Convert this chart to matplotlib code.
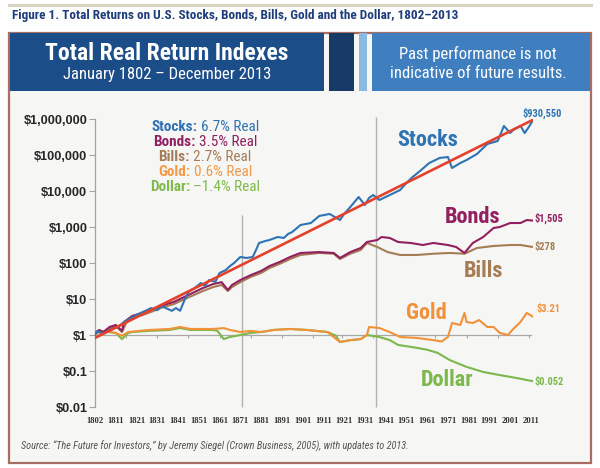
import matplotlib
matplotlib.use("Agg")
import matplotlib.pyplot as plt
from matplotlib import font_manager
from matplotlib.patches import Rectangle
from matplotlib.offsetbox import TextArea, HPacker, VPacker, AnnotationBbox
from matplotlib.ticker import NullLocator, FixedLocator

# ------------------------------------------------------------------ data
stock_years = [1802, 1803, 1806, 1809, 1813, 1816, 1820, 1824, 1827, 1829, 1832, 1834,
               1837, 1839, 1841, 1843, 1845, 1847, 1850, 1853, 1855, 1857, 1860, 1862,
               1865, 1867, 1869, 1872, 1875, 1878, 1880, 1881, 1884, 1886, 1890, 1893,
               1895, 1897, 1901, 1906, 1910, 1915, 1920, 1922, 1925, 1929, 1932, 1934,
               1936, 1939, 1942, 1944, 1949, 1952, 1955, 1958, 1963, 1966, 1968, 1972,
               1974, 1978, 1981, 1986, 1991, 1996, 1999, 2002, 2004, 2007, 2009, 2011, 2013]
stock_values = [1.0, 1.29, 1.07, 1.38, 1.67, 2.3, 3.16, 4.1, 4.9, 5.6, 4.9, 6.4,
                5.3, 4.7, 5.6, 4.7, 9.0, 15.6, 20.2, 27.8, 23, 33.7, 30, 52.7,
                64, 82, 100, 147, 138, 147, 261, 359, 408, 435, 527, 496,
                640, 726, 1136, 1290, 2023, 2300, 1563, 2300, 3594, 6813, 4084, 6400,
                7743, 5623, 6813, 7743, 10660, 16681, 24480, 33700, 59900, 72600, 82600, 88000,
                43500, 60000, 72600, 106700, 202000, 245000, 640000, 408000, 527000, 640000,
                408000, 600000, 930550]

bond_years = [1802, 1804, 1806, 1809, 1812, 1815, 1816, 1820, 1825, 1830, 1835, 1840,
              1844, 1849, 1854, 1859, 1863, 1866, 1868, 1872, 1877, 1882, 1886, 1891,
              1896, 1901, 1910, 1917, 1920, 1925, 1930, 1933, 1938, 1940, 1944, 1948,
              1954, 1960, 1965, 1972, 1976, 1980, 1984, 1989, 1994, 1997, 2002, 2007,
              2010, 2013]
bond_values = [1.1, 1.38, 1.2, 1.67, 1.9, 1.3, 2.3, 3.4, 4.1, 5.3, 6.8, 8.3,
               10.7, 14.7, 20.2, 26.1, 29.3, 17.8, 24.5, 33.7, 46, 60, 82, 107,
               147, 190, 201, 190, 138, 201, 261, 383, 435, 527, 496, 383,
               360, 316, 360, 316, 278, 190, 360, 527, 938, 1000, 1290, 1290,
               1563, 1505]

bill_years = [1802, 1804, 1806, 1809, 1812, 1815, 1817, 1820, 1825, 1830, 1835, 1840,
              1844, 1849, 1854, 1859, 1863, 1866, 1868, 1872, 1877, 1882, 1886, 1891,
              1896, 1901, 1910, 1917, 1920, 1925, 1930, 1933, 1938, 1943, 1949, 1957,
              1965, 1973, 1980, 1986, 1994, 2002, 2007, 2013]
bill_values = [1.0, 1.3, 1.15, 1.55, 1.8, 1.2, 2.15, 3.0, 3.6, 4.6, 6.0, 7.2,
               9.3, 12.4, 16.7, 21.5, 24.5, 16.7, 21.5, 29.3, 41, 52.7, 72, 95,
               129, 167, 190, 181, 129, 181, 230, 360, 278, 201, 167, 167,
               181, 190, 181, 261, 297, 316, 316, 278]

gold_years = [1802, 1805, 1812, 1815, 1818, 1828, 1838, 1843, 1848, 1859, 1864, 1867,
              1872, 1877, 1882, 1888, 1896, 1904, 1914, 1920, 1925, 1930, 1933, 1934,
              1939, 1944, 1949, 1957, 1965, 1969, 1972, 1974, 1978, 1980, 1981, 1984,
              1987, 1991, 1994, 1997, 2001, 2003, 2007, 2010, 2013]
gold_values = [1.0, 1.3, 1.14, 0.95, 1.21, 1.38, 1.47, 1.67, 1.47, 1.47, 1.56, 1.38,
               1.21, 1.3, 1.21, 1.38, 1.47, 1.38, 1.21, 0.64, 0.72, 0.77, 1.0, 1.67,
               1.56, 1.21, 0.88, 0.83, 0.72, 0.66, 0.88, 2.15, 1.9, 4.1, 2.3, 2.15,
               2.6, 1.67, 1.67, 1.14, 1.0, 1.38, 2.3, 4.1, 3.21]

dollar_years = [1802, 1805, 1812, 1815, 1818, 1820, 1828, 1838, 1843, 1848, 1853, 1859,
                1861, 1864, 1867, 1872, 1877, 1882, 1888, 1896, 1904, 1914, 1918, 1920,
                1925, 1930, 1933, 1939, 1944, 1948, 1957, 1962, 1967, 1973, 1981, 1989,
                1997, 2005, 2013]
dollar_values = [1.0, 1.3, 1.14, 0.77, 1.14, 1.21, 1.3, 1.38, 1.56, 1.38, 1.38, 1.38,
                 1.3, 0.77, 0.88, 1.0, 1.14, 1.21, 1.38, 1.47, 1.38, 1.21, 0.96, 0.64,
                 0.72, 0.77, 1.0, 0.88, 0.72, 0.53, 0.44, 0.39, 0.32, 0.20, 0.13, 0.094,
                 0.077, 0.064, 0.052]

trend_years = [1802, 2013]
trend_values = [0.83, 950000]

xtick_labels = ['1802', '1811', '1821', '1831', '1841', '1851', '1861', '1871', '1881',
                '1891', '1901', '1911', '1921', '1931', '1941', '1951', '1961', '1971',
                '1981', '1991', '2001', '2011']
ytick_values = [0.01, 0.1, 1, 10, 100, 1000, 10000, 100000, 1000000]
ytick_labels = ['$0.01', '$0.1', '$1', '$10', '$100', '$1,000', '$10,000',
                '$100,000', '$1,000,000']
axis_tick_years = [1817, 1832, 1847, 1862, 1877, 1892, 1907, 1921, 1936, 1951,
                   1966, 1981, 1996, 2011]
divider_years = [1873, 1937.4]

legend_names = ['Stocks:', 'Bonds:', 'Bills:', 'Gold:', 'Dollar:']
legend_rates = ['6.7% Real', '3.5% Real', '2.7% Real', '0.6% Real', '\u20131.4% Real']
series_names = ['Stocks', 'Bonds', 'Bills', 'Gold', 'Dollar']
end_labels = ['$930,550', '$1,505', '$278', '$3.21', '$0.052']

# ------------------------------------------------------------------ fonts
fams = {f.name for f in font_manager.fontManager.ttflist}


def first(options, default):
    for o in options:
        if o in fams:
            return o
    return default


NARROW = first(['Roboto Condensed', 'Barlow Semi Condensed', 'Archivo Narrow',
                'Asap Condensed', 'Liberation Sans Narrow'], 'DejaVu Sans')
SANS = first(['Liberation Sans', 'Arimo'], 'DejaVu Sans')
SERIF = first(['Liberation Serif', 'Tinos'], 'DejaVu Serif')

C_STOCK = '#2e74b5'
C_BOND = '#921f5f'
C_BILL = '#a57c53'
C_GOLD = '#f1923b'
C_DOLLAR = '#7cb84b'
C_TREND = '#e4412c'

W, H = 600, 468
fig = plt.figure(figsize=(6, 4.68), dpi=100)
fig.patch.set_facecolor('white')


def fx(x):
    return x / W


def fy(y):
    return 1 - y / H


def frect(x0, y0, x1, y1, **kw):
    fig.add_artist(Rectangle((fx(x0), fy(y1)), fx(x1) - fx(x0), fy(y0) - fy(y1),
                             transform=fig.transFigure, **kw))


# top rule and caption
fig.add_artist(plt.Line2D([fx(9), fx(591)], [fy(5), fy(5)], color='#d8d3c2', lw=2.2,
                          transform=fig.transFigure, zorder=-3))
fig.text(fx(12), fy(15), 'Figure 1. Total Returns on U.S. Stocks, Bonds, Bills, Gold and the Dollar, 1802\u20132013',
         family=NARROW, weight='bold', fontsize=9.5, color='#1f3d7a', va='center', ha='left')

# frame + panel
frect(9, 33, 591, 463, facecolor='#f6f6f4', edgecolor='#a86d63', lw=1.6, zorder=-3)
# header blocks
frect(10, 33, 324, 91, facecolor='#1b4d89', edgecolor='none', zorder=-2)
frect(329, 33, 354, 91, facecolor='#173a66', edgecolor='none', zorder=-2)
frect(359, 33, 367, 91, facecolor='#8cb9e0', edgecolor='none', zorder=-2)
frect(372, 33, 590, 91, facecolor='#3f7ebf', edgecolor='none', zorder=-2)

fig.text(fx(167), fy(54), 'Total Real Return Indexes', family=NARROW, weight='bold',
         fontsize=17, color='white', ha='center', va='center')
fig.text(fx(167), fy(75), 'January 1802 \u2013 December 2013', family=NARROW,
         fontsize=12, color='white', ha='center', va='center')
fig.text(fx(478), fy(54), 'Past performance is not', family=NARROW,
         fontsize=12, color='white', ha='center', va='center')
fig.text(fx(478), fy(73), 'indicative of future results.', family=NARROW,
         fontsize=12, color='white', ha='center', va='center')

fig.text(fx(21), fy(446), 'Source: \u201cThe Future for Investors,\u201d by Jeremy Siegel (Crown Business, 2005), with updates to 2013.',
         family=NARROW, style='italic', fontsize=7.4, color='#555555', ha='left', va='center')

# ------------------------------------------------------------------ axes
ax = fig.add_axes([fx(95), fy(407), fx(533) - fx(95), fy(119) - fy(407)], zorder=1)
ax.set_facecolor('none')
ax.set_yscale('log')
ax.set_xlim(1802, 2013)
ax.set_ylim(0.01, 1e6)

for s in ['top', 'right', 'bottom']:
    ax.spines[s].set_visible(False)
ax.spines['left'].set_color('#a3a3a3')
ax.spines['left'].set_linewidth(0.9)

ax.yaxis.set_major_locator(FixedLocator(ytick_values))
ax.yaxis.set_minor_locator(NullLocator())
ax.set_yticklabels(ytick_labels, family=SANS, weight='bold', fontsize=9.2, color='#262626')
ax.tick_params(axis='y', length=4, width=0.8, color='#a3a3a3', pad=1.5)

xpos = [1802 + 10 * i for i in range(len(xtick_labels))]
ax.set_xticks(xpos)
ax.set_xticklabels(xtick_labels, family=SERIF, weight='bold', fontsize=6.2, color='#333333')
ax.tick_params(axis='x', length=0, pad=7)

# $1 base line, its small ticks and the two dividers
ax.plot([1802, 2012], [1, 1], color='#a8a8a8', lw=0.9, zorder=1)
ax.vlines(axis_tick_years, 0.84, 1, color='#a8a8a8', lw=0.8, zorder=1)
ax.vlines(divider_years[0], 0.01, 2150, color='#b3b3b3', lw=1.0, zorder=1, clip_on=False)
ax.vlines(divider_years[1], 0.01, 1.15e6, color='#b3b3b3', lw=1.0, zorder=1, clip_on=False)

# series
ax.plot(bill_years, bill_values, color=C_BILL, lw=1.5, zorder=3)
ax.plot(bond_years, bond_values, color=C_BOND, lw=1.5, zorder=4)
ax.plot(dollar_years, dollar_values, color=C_DOLLAR, lw=1.5, zorder=3)
ax.plot(gold_years, gold_values, color=C_GOLD, lw=1.5, zorder=3.5)
ax.plot(stock_years, stock_values, color=C_STOCK, lw=1.5, zorder=5)
ax.plot(trend_years, trend_values, color=C_TREND, lw=1.9, zorder=6)

# series names
name_pos = [(1962, 2.6e5), (1984, 1900), (1989, 60), (1961.5, 4.1), (1971.5, 0.056)]
colors = [C_STOCK, C_BOND, C_BILL, C_GOLD, C_DOLLAR]
for nm, (xx, yy), c in zip(series_names, name_pos, colors):
    ax.text(xx, yy, nm, color=c, family=NARROW, weight='bold', fontsize=16,
            ha='center', va='center', zorder=7)

# end-value labels
ends = [(stock_years[-1], stock_values[-1]), (bond_years[-1], bond_values[-1]),
        (bill_years[-1], bill_values[-1]), (gold_years[-1], gold_values[-1]),
        (dollar_years[-1], dollar_values[-1])]
offs = [(9, 7, 'center'), (1, 2, 'left'), (1, 0, 'left'), (3, 8, 'left'), (1, -1, 'left')]
for lab, (xx, yy), (dx, dy, ha), c in zip(end_labels, ends, offs, colors):
    ax.annotate(lab, (xx, yy), xytext=(dx, dy), textcoords='offset pixels',
                ha=ha, va='center', color=c, family=NARROW, weight='bold',
                fontsize=7.5, annotation_clip=False, zorder=7)

# rate legend block
leg_colors = ['#2f72b3', '#8f2061', '#a47c58', '#f19a48', '#80bb4c']
rows = []
for nm, rt, c in zip(legend_names, legend_rates, leg_colors):
    a = TextArea(nm, textprops=dict(color=c, family=NARROW, weight='bold', fontsize=11))
    b = TextArea(rt, textprops=dict(color=c, family=NARROW, fontsize=11))
    rows.append(HPacker(children=[a, b], align='baseline', pad=0, sep=2.5))
block = VPacker(children=rows, align='center', pad=0, sep=0.8)
ab = AnnotationBbox(block, (fx(205), fy(157)), xycoords='figure fraction',
                    frameon=False, box_alignment=(0.5, 0.5), pad=0, zorder=3)
fig.add_artist(ab)

fig.savefig('out.png', dpi=100, facecolor='white')
